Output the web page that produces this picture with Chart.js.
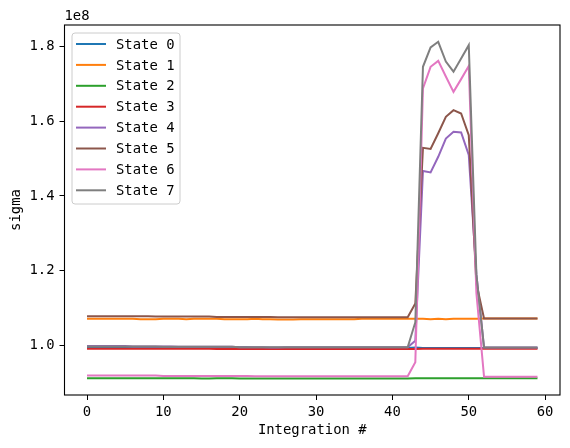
<!DOCTYPE html>
<html>
<head>
<meta charset="utf-8">
<script src="https://cdn.jsdelivr.net/npm/chart.js@4/dist/chart.umd.min.js"></script>
<style>
  html, body { margin: 0; padding: 0; background: #fff; }
  canvas { display: block; }
</style>
</head>
<body>
<canvas id="chart" width="570" height="448"></canvas>
<script>
// sigma per integration, in units of 1e8
const integration = Array.from({ length: 60 }, (_, i) => i);

const state0 = [
  0.995, 0.995, 0.995, 0.995, 0.995, 0.995, 0.995, 0.995, 0.995, 0.994,
  0.994, 0.994, 0.994, 0.994, 0.994, 0.994, 0.994, 0.994, 0.994, 0.994,
  0.994, 0.994, 0.993, 0.993, 0.993, 0.993, 0.993, 0.993, 0.993, 0.993,
  0.993, 0.993, 0.993, 0.993, 0.993, 0.993, 0.993, 0.993, 0.993, 0.993,
  0.993, 0.993, 0.993, 0.994, 0.993, 0.993, 0.993, 0.993, 0.993, 0.993,
  0.993, 0.993, 0.993, 0.993, 0.993, 0.993, 0.993, 0.993, 0.993, 0.993,
];
const state1 = [
  1.071, 1.071, 1.071, 1.071, 1.071, 1.071, 1.071, 1.070, 1.070, 1.070,
  1.071, 1.071, 1.071, 1.070, 1.071, 1.071, 1.071, 1.071, 1.070, 1.070,
  1.070, 1.070, 1.071, 1.070, 1.070, 1.069, 1.069, 1.069, 1.070, 1.070,
  1.070, 1.070, 1.070, 1.070, 1.070, 1.070, 1.071, 1.071, 1.071, 1.071,
  1.071, 1.071, 1.071, 1.071, 1.071, 1.070, 1.071, 1.070, 1.071, 1.071,
  1.071, 1.071, 1.072, 1.072, 1.072, 1.072, 1.072, 1.072, 1.072, 1.072,
];
const state2 = [
  0.912, 0.912, 0.912, 0.912, 0.912, 0.912, 0.912, 0.912, 0.912, 0.912,
  0.912, 0.912, 0.912, 0.912, 0.912, 0.911, 0.911, 0.912, 0.912, 0.912,
  0.911, 0.911, 0.911, 0.911, 0.911, 0.911, 0.911, 0.911, 0.911, 0.911,
  0.911, 0.911, 0.911, 0.911, 0.911, 0.911, 0.911, 0.911, 0.911, 0.911,
  0.911, 0.911, 0.911, 0.912, 0.912, 0.912, 0.912, 0.912, 0.912, 0.912,
  0.912, 0.912, 0.912, 0.912, 0.912, 0.912, 0.912, 0.912, 0.912, 0.912,
];
const state3 = [
  0.991, 0.991, 0.991, 0.991, 0.991, 0.991, 0.991, 0.991, 0.991, 0.991,
  0.991, 0.991, 0.991, 0.991, 0.991, 0.991, 0.991, 0.990, 0.990, 0.990,
  0.990, 0.990, 0.990, 0.990, 0.990, 0.990, 0.990, 0.990, 0.990, 0.990,
  0.990, 0.990, 0.990, 0.990, 0.990, 0.990, 0.990, 0.990, 0.990, 0.990,
  0.990, 0.990, 0.990, 0.990, 0.991, 0.991, 0.991, 0.991, 0.991, 0.991,
  0.991, 0.991, 0.991, 0.991, 0.991, 0.991, 0.991, 0.991, 0.991, 0.991,
];
const state4 = [
  0.998, 0.998, 0.998, 0.998, 0.998, 0.998, 0.997, 0.997, 0.997, 0.997,
  0.997, 0.997, 0.996, 0.996, 0.996, 0.996, 0.996, 0.996, 0.996, 0.996,
  0.995, 0.995, 0.995, 0.995, 0.994, 0.994, 0.995, 0.995, 0.995, 0.995,
  0.995, 0.995, 0.995, 0.995, 0.995, 0.995, 0.995, 0.995, 0.995, 0.995,
  0.995, 0.995, 0.995, 1.012, 1.467, 1.463, 1.505, 1.554, 1.572, 1.570,
  1.510, 1.190, 0.994, 0.994, 0.994, 0.994, 0.994, 0.994, 0.994, 0.994,
];
const state5 = [
  1.078, 1.078, 1.078, 1.078, 1.078, 1.078, 1.078, 1.078, 1.078, 1.077,
  1.077, 1.077, 1.077, 1.077, 1.077, 1.077, 1.077, 1.076, 1.076, 1.076,
  1.076, 1.076, 1.076, 1.076, 1.076, 1.075, 1.075, 1.075, 1.075, 1.075,
  1.075, 1.075, 1.075, 1.075, 1.075, 1.075, 1.075, 1.075, 1.075, 1.075,
  1.075, 1.075, 1.075, 1.112, 1.529, 1.526, 1.568, 1.612, 1.630, 1.621,
  1.563, 1.166, 1.072, 1.072, 1.072, 1.072, 1.072, 1.072, 1.072, 1.072,
];
const state6 = [
  0.919, 0.919, 0.919, 0.919, 0.919, 0.919, 0.919, 0.919, 0.919, 0.919,
  0.918, 0.918, 0.918, 0.918, 0.918, 0.918, 0.918, 0.918, 0.918, 0.918,
  0.918, 0.918, 0.917, 0.917, 0.917, 0.917, 0.917, 0.917, 0.917, 0.917,
  0.917, 0.917, 0.917, 0.917, 0.917, 0.917, 0.917, 0.917, 0.917, 0.917,
  0.917, 0.917, 0.917, 0.955, 1.688, 1.746, 1.762, 1.720, 1.679, 1.713,
  1.748, 1.140, 0.916, 0.916, 0.916, 0.916, 0.916, 0.916, 0.916, 0.916,
];
const state7 = [
  0.997, 0.997, 0.997, 0.997, 0.997, 0.997, 0.997, 0.997, 0.997, 0.997,
  0.996, 0.996, 0.996, 0.996, 0.996, 0.996, 0.996, 0.996, 0.996, 0.996,
  0.995, 0.995, 0.995, 0.995, 0.995, 0.995, 0.995, 0.995, 0.995, 0.995,
  0.995, 0.995, 0.995, 0.995, 0.995, 0.995, 0.995, 0.995, 0.995, 0.995,
  0.995, 0.995, 0.995, 1.062, 1.746, 1.798, 1.813, 1.760, 1.733, 1.768,
  1.804, 1.190, 0.994, 0.994, 0.994, 0.994, 0.994, 0.994, 0.994, 0.994,
];

const seriesNames = ['State 0', 'State 1', 'State 2', 'State 3', 'State 4', 'State 5', 'State 6', 'State 7'];
const seriesValues = [state0, state1, state2, state3, state4, state5, state6, state7];
const colors = ['#1f77b4', '#ff7f0e', '#2ca02c', '#d62728', '#9467bd', '#8c564b', '#e377c2', '#7f7f7f'];
const xTicks = [0, 10, 20, 30, 40, 50, 60];
const yTicks = [1.0, 1.2, 1.4, 1.6, 1.8];

const MONO = '"DejaVu Sans Mono", monospace';
const FS = 13.9;
Chart.defaults.font.family = MONO;
Chart.defaults.font.size = FS;
Chart.defaults.color = '#000';

// matplotlib-style frame, offset text and legend inside the axes
const mplDecor = {
  id: 'mplDecor',
  afterDraw(chart) {
    const { ctx, chartArea: a } = chart;
    ctx.save();
    ctx.strokeStyle = '#000';
    ctx.lineWidth = 1.1;
    ctx.strokeRect(a.left, a.top, a.right - a.left, a.bottom - a.top);

    ctx.font = `${FS}px ${MONO}`;
    ctx.fillStyle = '#000';
    ctx.textAlign = 'left';
    ctx.textBaseline = 'middle';
    ctx.fillText('1e8', a.left, 16);

    // legend
    const bx = 72, by = 33, bw = 108, bh = 171, r = 3;
    ctx.beginPath();
    ctx.moveTo(bx + r, by);
    ctx.arcTo(bx + bw, by, bx + bw, by + bh, r);
    ctx.arcTo(bx + bw, by + bh, bx, by + bh, r);
    ctx.arcTo(bx, by + bh, bx, by, r);
    ctx.arcTo(bx, by, bx + bw, by, r);
    ctx.closePath();
    ctx.fillStyle = 'rgba(255,255,255,0.8)';
    ctx.fill();
    ctx.strokeStyle = '#cccccc';
    ctx.lineWidth = 1;
    ctx.stroke();

    chart.data.datasets.forEach((ds, i) => {
      const y = 44 + i * 20.9;
      ctx.strokeStyle = ds.borderColor;
      ctx.lineWidth = 2;
      ctx.beginPath();
      ctx.moveTo(76, y);
      ctx.lineTo(106, y);
      ctx.stroke();
      ctx.fillStyle = '#000';
      ctx.fillText(ds.label, 116, y + 1);
    });
    ctx.restore();
  },
};

const datasets = seriesNames.map((name, i) => ({
  label: name,
  data: integration.map((x, j) => ({ x, y: seriesValues[i][j] })),
  borderColor: colors[i],
  backgroundColor: colors[i],
  borderWidth: 2,
  pointRadius: 0,
  tension: 0,
  fill: false,
  order: seriesNames.length - i,
}));

new Chart(document.getElementById('chart'), {
  type: 'line',
  data: { datasets },
  options: {
    responsive: false,
    animation: false,
    layout: { padding: { top: 25, right: 10, left: 0, bottom: 0 } },
    plugins: { legend: { display: false }, tooltip: { enabled: false } },
    scales: {
      x: {
        type: 'linear',
        min: -2.95,
        max: 61.95,
        afterBuildTicks: (s) => { s.ticks = xTicks.map(v => ({ value: v })); },
        afterFit: (s) => { s.height = 53; },
        ticks: { padding: 4, color: '#000', maxRotation: 0, callback: (v) => String(v) },
        grid: { drawOnChartArea: false, tickLength: 5, color: '#000', lineWidth: 1 },
        border: { display: false },
        title: { display: true, text: 'Integration #', color: '#000', padding: { top: 0, bottom: 9 } },
      },
      y: {
        min: 0.867,
        max: 1.858,
        afterBuildTicks: (s) => { s.ticks = yTicks.map(v => ({ value: v })); },
        afterFit: (s) => { s.width = 64.5; },
        ticks: { padding: 5, color: '#000', callback: (v) => v.toFixed(1) },
        grid: { drawOnChartArea: false, tickLength: 5, color: '#000', lineWidth: 1 },
        border: { display: false },
        title: { display: true, text: 'sigma', color: '#000', padding: { top: 8, bottom: 0 } },
      },
    },
  },
  plugins: [mplDecor],
});
</script>
</body>
</html>
